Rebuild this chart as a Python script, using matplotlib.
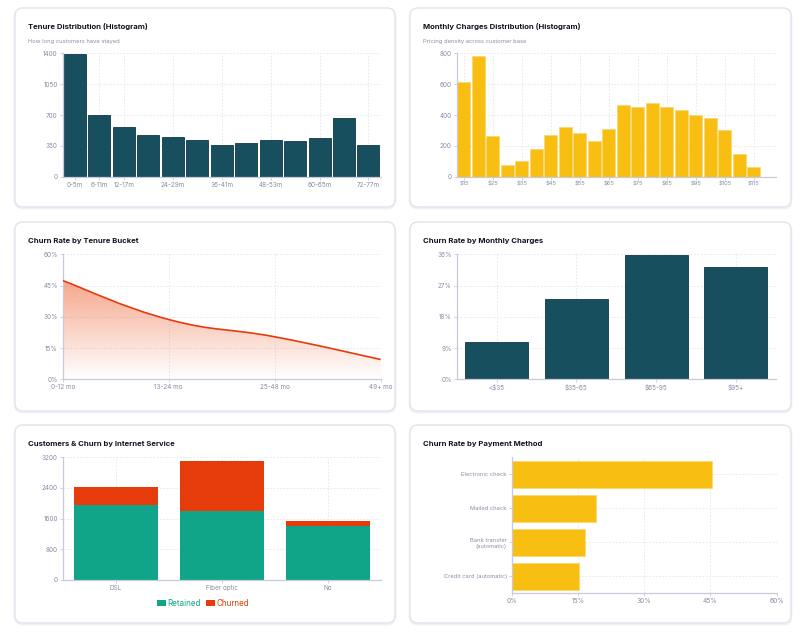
import numpy as np
import matplotlib
matplotlib.use('Agg')
import matplotlib.pyplot as plt
from matplotlib.patches import FancyBboxPatch, PathPatch, Patch
from matplotlib.path import Path
from matplotlib.colors import to_rgb

plt.rcParams['font.family'] = ['Inter', 'DejaVu Sans']

# ---------------- data ----------------
tenure_bins = ['0-5m', '6-11m', '12-17m', '18-23m', '24-29m', '30-35m', '36-41m',
               '42-47m', '48-53m', '54-59m', '60-65m', '66-71m', '72-77m']
tenure_counts = [1390, 695, 562, 473, 447, 417, 361, 384, 413, 402, 443, 666, 357]

charge_bins = ['$15', '$20', '$25', '$30', '$35', '$40', '$45', '$50', '$55', '$60', '$65',
               '$70', '$75', '$80', '$85', '$90', '$95', '$100', '$105', '$110', '$115']
charge_counts = [612, 780, 262, 75, 103, 180, 272, 325, 285, 230, 310,
                 462, 450, 480, 450, 433, 398, 380, 305, 150, 62]

tenure_buckets = ['0-12 mo', '13-24 mo', '25-48 mo', '49+ mo']
tenure_churn = [47.4, 28.7, 20.4, 9.5]

charge_buckets = ['<$35', '$35-65', '$65-95', '$95+']
charge_churn = [10.8, 23.0, 35.9, 32.3]

internet_services = ['DSL', 'Fiber optic', 'No']
retained = [1962, 1799, 1413]
churned = [459, 1297, 113]

payment_methods = ['Electronic check', 'Mailed check', 'Bank transfer\n(automatic)',
                   'Credit card (automatic)']
payment_churn = [45.3, 19.1, 16.7, 15.2]

# ---------------- style ----------------
TEAL = '#174f5f'
TEAL_EDGE = '#0d3a47'
YEL = '#f9be12'
RED = '#e63b0b'
GREEN = '#10a488'
AXC = '#c8cadb'
GRID = '#e3e5ef'
TXT = '#878ca6'
TITLE = '#111322'
TICK = 4.6

W, H = 800, 634
fig = plt.figure(figsize=(8, 6.34), dpi=100)
fig.patch.set_facecolor('white')

bg = fig.add_axes([0, 0, 1, 1], zorder=-10)
bg.set_xlim(0, W)
bg.set_ylim(H, 0)
bg.axis('off')

cards = [(15, 8, 380, 199), (410, 8, 381, 199),
         (15, 222, 380, 189), (410, 222, 381, 189),
         (15, 425, 380, 198), (410, 425, 381, 198)]
for (x, y, w, h) in cards:
    bg.add_patch(FancyBboxPatch((x, y + 1), w, h, boxstyle='round,pad=0,rounding_size=8',
                                fc='none', ec='#f0f1f6', lw=2.0))
    bg.add_patch(FancyBboxPatch((x, y), w, h, boxstyle='round,pad=0,rounding_size=8',
                                fc='white', ec='#e2e4ee', lw=1.0))

titles = [(28, 27, 'Tenure Distribution (Histogram)'),
          (423, 27, 'Monthly Charges Distribution (Histogram)'),
          (28, 241.5, 'Churn Rate by Tenure Bucket'),
          (423, 241.5, 'Churn Rate by Monthly Charges'),
          (28, 444, 'Customers & Churn by Internet Service'),
          (423, 444, 'Churn Rate by Payment Method')]
for x, y, t in titles:
    bg.text(x, y, t, fontsize=5.55, fontweight='bold', color=TITLE, va='center', ha='left')
subs = [(28, 41, 'How long customers have stayed'),
        (423, 41, 'Pricing density across customer base')]
for x, y, t in subs:
    bg.text(x, y, t, fontsize=4.2, color='#8a8ea8', va='center', ha='left')


def ax_at(l, t, r, b):
    return fig.add_axes([l / W, 1 - b / H, (r - l) / W, (b - t) / H])


def style(ax, xsize=TICK, ysize=TICK):
    for s in ['top', 'right']:
        ax.spines[s].set_visible(False)
    for s in ['left', 'bottom']:
        ax.spines[s].set_color(AXC)
        ax.spines[s].set_linewidth(0.9)
    ax.tick_params(colors=AXC, labelcolor=TXT, length=2, width=0.6, pad=1.5)
    ax.tick_params(axis='x', labelsize=xsize)
    ax.tick_params(axis='y', labelsize=ysize)
    ax.set_axisbelow(True)
    ax.grid(True, ls=(0, (2, 2)), color=GRID, lw=0.6)
    ax.patch.set_alpha(0)


def right_edge(ax):
    ax.axvline(ax.get_xlim()[1], ls=(0, (2, 2)), color=GRID, lw=0.6, zorder=0)


# ---- 1: tenure histogram ----
ax1 = ax_at(62.7, 53.3, 380.7, 176.7)
style(ax1)
x1 = np.arange(len(tenure_bins))
ax1.bar(x1, tenure_counts, width=0.9, color=TEAL, ec=TEAL_EDGE, lw=0.6)
ax1.set_xlim(-0.5, len(tenure_bins) - 0.5)
ax1.set_ylim(0, 1400)
ax1.set_yticks([0, 350, 700, 1050, 1400])
shown = [0, 1, 2, 4, 6, 8, 10, 12]
ax1.set_xticks(shown)
ax1.set_xticklabels([tenure_bins[i] for i in shown])
right_edge(ax1)

# ---- 2: monthly charges histogram ----
ax2 = ax_at(456.7, 53.3, 775.7, 176.7)
style(ax2, xsize=4.2)
x2 = np.arange(len(charge_bins))
ax2.bar(x2, charge_counts, width=0.9, color=YEL, ec='#fcd66a', lw=0.5)
ax2.set_xlim(-0.5, len(charge_bins) + 0.5)
ax2.set_ylim(0, 800)
ax2.set_yticks([0, 200, 400, 600, 800])
shown2 = list(range(0, len(charge_bins), 2))
ax2.set_xticks(shown2)
ax2.set_xticklabels([charge_bins[i] for i in shown2])
right_edge(ax2)

# ---- 3: churn by tenure bucket (smooth area) ----
ax3 = ax_at(62.7, 254.3, 380.7, 379.3)
style(ax3)
x3 = np.arange(len(tenure_buckets), dtype=float)
pts = np.column_stack([x3, np.array(tenure_churn, dtype=float)])
n = len(pts)
s = 0.22
verts = [tuple(pts[0])]
codes = [Path.MOVETO]
for i in range(n - 1):
    p0 = pts[i - 1] if i > 0 else pts[i]
    p1 = pts[i]
    p2 = pts[i + 1]
    p3 = pts[i + 2] if i + 2 < n else pts[i + 1]
    c1 = p1 + (p2 - p0) * s
    c2 = p2 - (p3 - p1) * s
    verts += [tuple(c1), tuple(c2), tuple(p2)]
    codes += [Path.CURVE4] * 3
line_path = Path(verts, codes)
fill_verts = verts + [(x3[-1], 0), (x3[0], 0), verts[0]]
fill_codes = codes + [Path.LINETO, Path.LINETO, Path.CLOSEPOLY]
fill_patch = PathPatch(Path(fill_verts, fill_codes), fc='none', ec='none')
ax3.add_patch(fill_patch)
grad = np.zeros((200, 2, 4))
grad[..., :3] = to_rgb('#ec4a14')
grad[..., 3] = np.linspace(0.0, 0.62, 200)[:, None]
im = ax3.imshow(grad, extent=[x3[0], x3[-1], 0, 60], origin='lower', aspect='auto',
                zorder=1, interpolation='bilinear')
im.set_clip_path(fill_patch)
ax3.add_patch(PathPatch(line_path, fc='none', ec=RED, lw=1.2, zorder=3))
ax3.set_xlim(0, 3)
ax3.set_ylim(0, 60)
ax3.set_xticks(x3)
ax3.set_xticklabels(tenure_buckets)
ax3.set_yticks([0, 15, 30, 45, 60])
ax3.set_yticklabels([f'{v}%' for v in [0, 15, 30, 45, 60]])

# ---- 4: churn by monthly charges ----
ax4 = ax_at(456.7, 254.3, 775.7, 379.3)
style(ax4)
x4 = np.arange(len(charge_buckets))
ax4.bar(x4, charge_churn, width=0.79, color=TEAL, ec=TEAL_EDGE, lw=0.6)
ax4.set_xlim(-0.5, len(charge_buckets) - 0.5)
ax4.set_ylim(0, 36)
ax4.set_xticks(x4)
ax4.set_xticklabels(charge_buckets)
ax4.set_yticks([0, 9, 18, 27, 36])
ax4.set_yticklabels([f'{v}%' for v in [0, 9, 18, 27, 36]])
right_edge(ax4)

# ---- 5: internet service stacked ----
ax5 = ax_at(62.7, 457.3, 380.7, 580.0)
style(ax5)
x5 = np.arange(len(internet_services))
ax5.bar(x5, retained, width=0.79, color=GREEN, lw=0, label='Retained')
ax5.bar(x5, churned, width=0.79, bottom=retained, color=RED, lw=0, label='Churned')
ax5.set_xlim(-0.5, len(internet_services) - 0.5)
ax5.set_ylim(0, 3200)
ax5.set_yticks([0, 800, 1600, 2400, 3200])
ax5.set_xticks(x5)
ax5.set_xticklabels(internet_services)
right_edge(ax5)
handles = [Patch(fc=GREEN, ec='none'), Patch(fc=RED, ec='none')]
leg = fig.legend(handles, ['Retained', 'Churned'], loc='center',
                 bbox_to_anchor=(203 / W, 1 - 603 / H), ncol=2, frameon=False,
                 fontsize=5.8, handlelength=1.1, handleheight=0.8, handletextpad=0.25,
                 columnspacing=0.6)
for txt, c in zip(leg.get_texts(), [GREEN, RED]):
    txt.set_color(c)

# ---- 6: payment method horizontal ----
ax6 = ax_at(511.7, 457.3, 776.7, 593.3)
style(ax6, xsize=4.8, ysize=4.1)
y6 = np.arange(len(payment_methods))
ax6.barh(y6, payment_churn, height=0.8, color=YEL, ec='#fcd66a', lw=0.5)
ax6.set_ylim(len(payment_methods) - 0.5, -0.5)
ax6.set_xlim(0, 60)
ax6.set_xticks([0, 15, 30, 45, 60])
ax6.set_xticklabels([f'{v}%' for v in [0, 15, 30, 45, 60]])
ax6.set_yticks(y6)
ax6.set_yticklabels(payment_methods)

fig.savefig('out.png', dpi=100, facecolor='white')
